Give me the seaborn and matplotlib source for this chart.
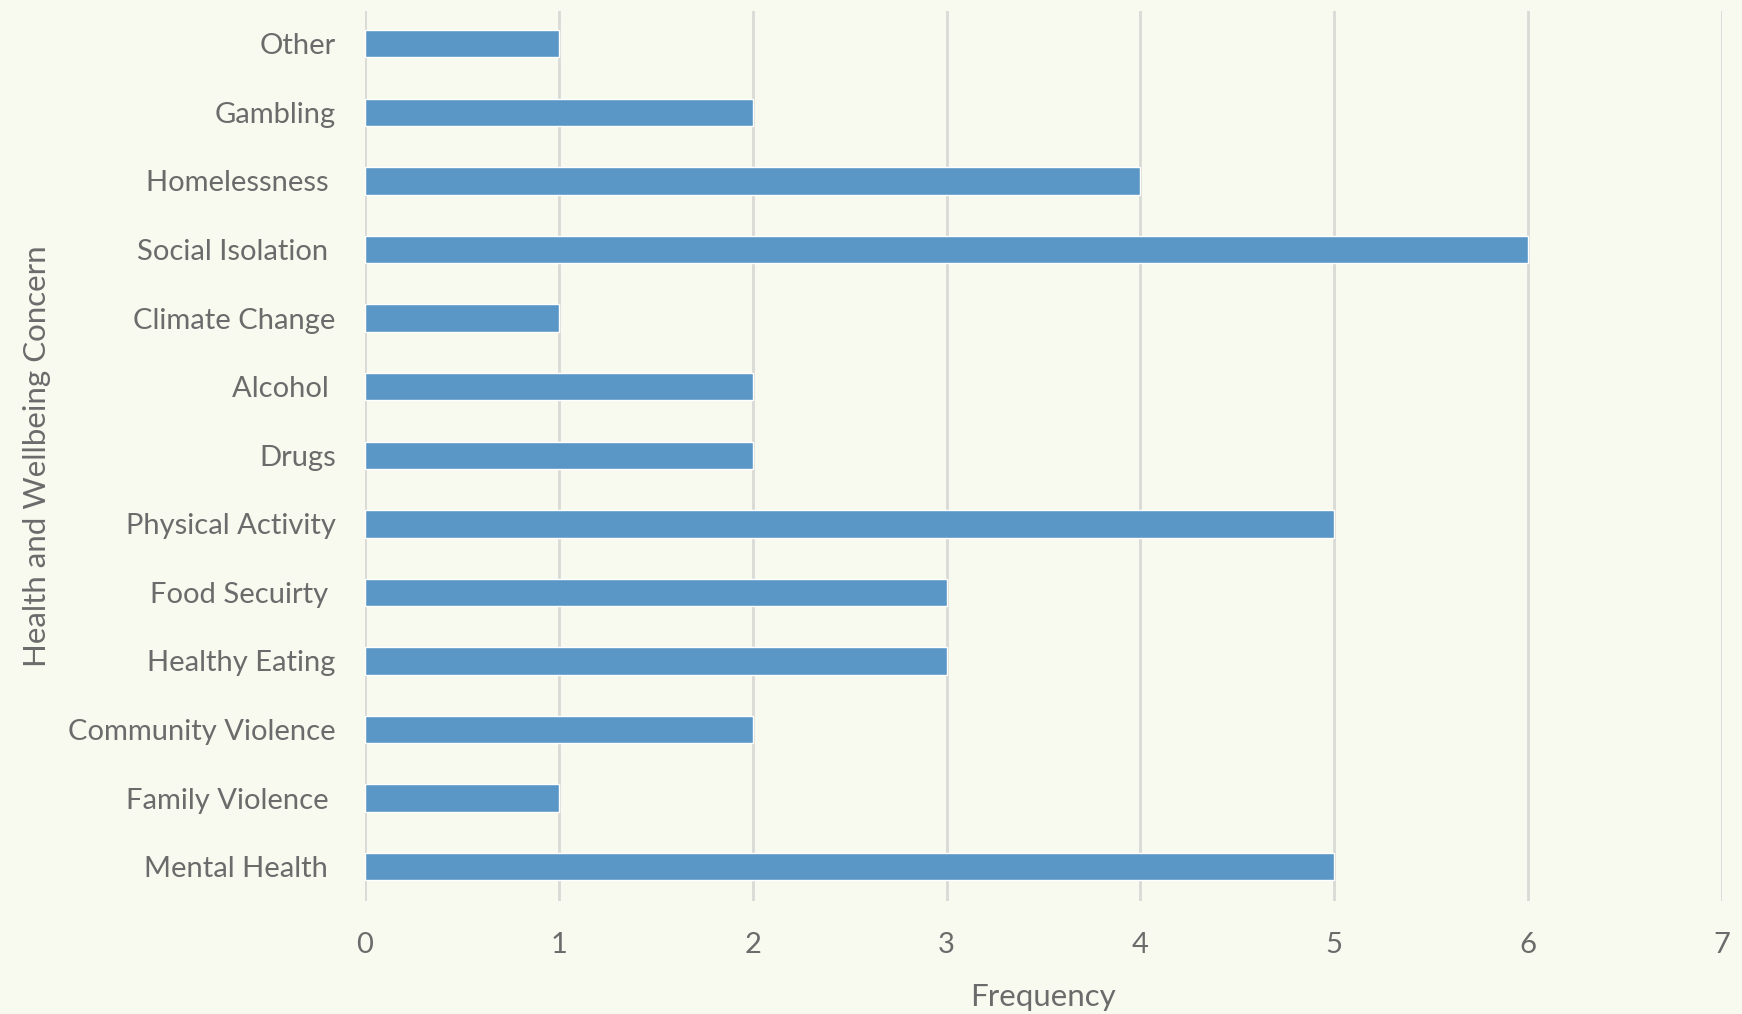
import numpy as np
import pandas as pd
import matplotlib
matplotlib.use("Agg")
import matplotlib.pyplot as plt
import seaborn as sns

concerns = ["Other", "Gambling", "Homelessness ", "Social Isolation ", "Climate Change",
            "Alcohol ", "Drugs", "Physical Activity", "Food Secuirty ", "Healthy Eating",
            "Community Violence", "Family Violence ", "Mental Health "]
frequency = [1, 2, 4, 6, 1, 2, 2, 5, 3, 3, 2, 1, 5]

data = pd.DataFrame({"concern": concerns, "frequency": frequency})

bg = "#F8F9EF"
text_col = "#6B6B6B"

sns.set_theme(style="white")
plt.rcParams['font.family'] = ['Lato', 'DejaVu Sans']

fig = plt.figure(figsize=(17.42, 10.14), dpi=100, facecolor=bg)
ax = fig.add_axes([0.2095, 0.1114, 0.7790, 0.8776])
ax.set_facecolor(bg)

sns.barplot(data=data, x="frequency", y="concern", order=concerns, orient="h",
            color="#5A97C6", saturation=1, width=0.4, ax=ax, zorder=3)

ax.set_xlim(0, 7)
ax.set_ylim(12.5, -0.475)
ax.set_xticks(range(0, 8))
ax.grid(axis="x", color="#D9D9D6", linewidth=2.0, zorder=0)
ax.grid(axis="y", visible=False)
ax.set_axisbelow(True)
for s in ax.spines.values():
    s.set_visible(False)

ax.tick_params(axis="both", length=0, labelsize=21, colors=text_col)
ax.tick_params(axis="y", pad=21)
ax.tick_params(axis="x", pad=22)

ax.set_xlabel("Frequency", fontsize=22.5, color=text_col, labelpad=18)
ax.set_ylabel("Health and Wellbeing Concern", fontsize=22.5, color=text_col)
ax.yaxis.set_label_coords(-0.231, 0.5)

fig.savefig("out.png", dpi=100, facecolor=bg)
